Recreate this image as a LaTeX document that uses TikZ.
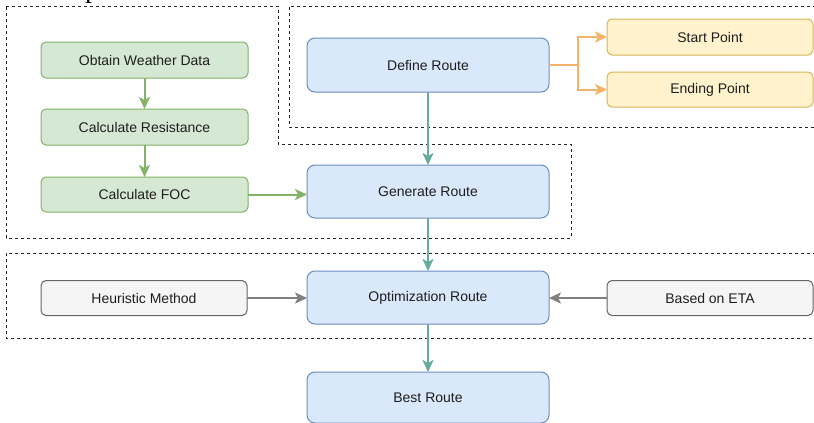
\documentclass[tikz,border=0pt]{standalone}
\usepackage{fontspec}
\setmainfont{Liberation Sans}
\newfontfamily\pserif{Liberation Serif}
\usetikzlibrary{arrows.meta}
\definecolor{gfill}{HTML}{D5E8D4}
\definecolor{gline}{HTML}{82B366}
\definecolor{bfill}{HTML}{DAE8FC}
\definecolor{bline}{HTML}{6C8EBF}
\definecolor{yfill}{HTML}{FFF2CC}
\definecolor{yline}{HTML}{D6B656}
\definecolor{kfill}{HTML}{F5F5F5}
\definecolor{kline}{HTML}{666666}
\definecolor{tealc}{HTML}{67AB9F}
\definecolor{orangec}{HTML}{F5B36A}
\definecolor{grayc}{HTML}{808080}
\definecolor{txt}{HTML}{1E1E1E}
\tikzset{
  boxbase/.style={draw, line width=1pt, inner sep=0pt, outer sep=0pt, text=txt,
    font=\fontsize{14}{16}\selectfont},
  greenbox/.style={boxbase, fill=gfill, draw=gline, rounded corners=5pt,
    minimum width=207pt, minimum height=36pt},
  bluebox/.style={boxbase, fill=bfill, draw=bline, rounded corners=8pt,
    minimum width=242pt, minimum height=53pt},
  yellowbox/.style={boxbase, fill=yfill, draw=yline, rounded corners=5pt,
    minimum width=206pt, minimum height=36pt},
  graybox/.style={boxbase, fill=kfill, draw=kline, rounded corners=5pt,
    minimum width=206pt, minimum height=35pt},
  arr/.style={line width=2pt, -{Stealth[length=12pt, width=11pt, inset=3pt]}},
  garrow/.style={arr, draw=gline},
  tarrow/.style={arr, draw=tealc},
  oarrow/.style={arr, draw=orangec},
  karrow/.style={arr, draw=grayc},
  region/.style={draw=black!85, line width=1pt, dash pattern=on 3pt off 3pt}
}
\begin{document}
\begin{tikzpicture}[x=1pt, y=-1pt]
\clip (0,0) rectangle (814,423);
\fill[white] (0,0) rectangle (814,423);
% dashed regions
\draw[region] (6,6) -- (278,6) -- (278,144) -- (571,144) -- (571,238) -- (6,238) -- cycle;
\draw[region] (822,6) -- (289,6) -- (289,127) -- (822,127);
\draw[region] (822,253) -- (6,253) -- (6,338) -- (822,338);
% cut-off caption letter
\node[anchor=base west, inner sep=0pt, font=\pserif\fontsize{28}{28}\selectfont] (pcap) at (85,-2) {p};
% nodes
\node[greenbox] (ow) at (144.5,60) {Obtain Weather Data};
\node[greenbox] (cr) at (144.5,127) {Calculate Resistance};
\node[greenbox, minimum height=35pt] (foc) at (144.5,194.5) {Calculate FOC};
\node[bluebox, minimum height=54pt] (def) at (428,65) {Define Route};
\node[bluebox] (gen) at (428,191.5) {Generate Route};
\node[bluebox] (opt) at (428,297.5) {Optimization Route};
\node[bluebox, minimum height=51pt] (best) at (428,397.5) {Best Route};
\node[yellowbox] (sp) at (710,37) {Start Point};
\node[yellowbox, minimum height=35pt] (ep) at (710,89.5) {Ending Point};
\node[graybox] (heu) at (144,298) {Heuristic Method};
\node[graybox] (eta) at (710,298) {Based on ETA};
% connectors
\draw[garrow] (ow) -- (cr);
\draw[garrow] (cr) -- (foc);
\draw[garrow] (foc.east) -- (foc.east -| gen.west);
\draw[tarrow] (def) -- (gen);
\draw[tarrow] (gen) -- (opt);
\draw[tarrow] (opt) -- (best);
\coordinate (j) at (578,65);
\draw[oarrow] (def.east) -- (j) |- (sp.west);
\draw[oarrow] (def.east) -- (j) |- (ep.west);
\draw[karrow] (heu.east) -- (heu.east -| opt.west);
\draw[karrow] (eta.west) -- (eta.west -| opt.east);
\end{tikzpicture}
\end{document}
